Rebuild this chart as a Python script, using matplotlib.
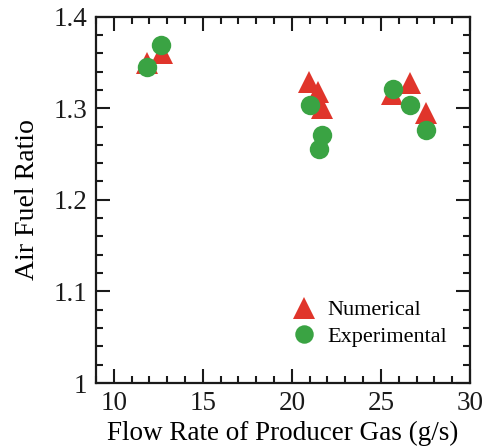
import matplotlib
matplotlib.use("Agg")
import matplotlib.pyplot as plt
from matplotlib.ticker import MultipleLocator, FuncFormatter

plt.rcParams['font.family'] = ['Liberation Serif', 'DejaVu Serif']

num_x = [11.89, 12.73, 20.97, 21.48, 21.72, 25.65, 26.63, 27.53]
num_y = [1.349, 1.360, 1.329, 1.318, 1.300, 1.316, 1.328, 1.295]
exp_x = [11.89, 12.68, 21.01, 21.70, 21.52, 25.69, 26.63, 27.53]
exp_y = [1.3455, 1.369, 1.304, 1.271, 1.256, 1.321, 1.304, 1.276]

red = '#e0352b'
green = '#3aa343'

fig = plt.figure(figsize=(4.87, 4.48), dpi=100)
ax = fig.add_axes([0.197, 0.145, 0.768, 0.818])

ax.plot(num_x, num_y, linestyle='none', marker='^', markersize=16, color=red,
        markeredgewidth=0, label='Numerical')
ax.plot(exp_x, exp_y, linestyle='none', marker='o', markersize=14, color=green,
        markeredgewidth=0, label='Experimental')

ax.set_xlim(9, 30)
ax.set_ylim(1.0, 1.4)
ax.xaxis.set_major_locator(MultipleLocator(5))
ax.xaxis.set_minor_locator(MultipleLocator(1))
ax.yaxis.set_major_locator(MultipleLocator(0.1))
ax.yaxis.set_minor_locator(MultipleLocator(0.02))
ax.yaxis.set_major_formatter(FuncFormatter(lambda v, p: ('%.1f' % v).rstrip('0').rstrip('.')))

ax.tick_params(which='both', direction='in', top=True, right=True, width=1.5,
               labelsize=19.5, colors='#1a1a1a')
ax.tick_params(which='major', length=10, pad=6)
ax.tick_params(which='minor', length=5)
for s in ax.spines.values():
    s.set_linewidth(1.6)
    s.set_color('#1a1a1a')

ax.set_xlabel('Flow Rate of Producer Gas (g/s)', fontsize=19.5, labelpad=3.5)
ax.set_ylabel('Air Fuel Ratio', fontsize=20, labelpad=10)

leg = ax.legend(loc='lower left', bbox_to_anchor=(0.466, 0.045), frameon=False,
                fontsize=16, handletextpad=0.45, labelspacing=0.25,
                handlelength=1.2, markerscale=0.95)

fig.savefig('out.png', dpi=100)
